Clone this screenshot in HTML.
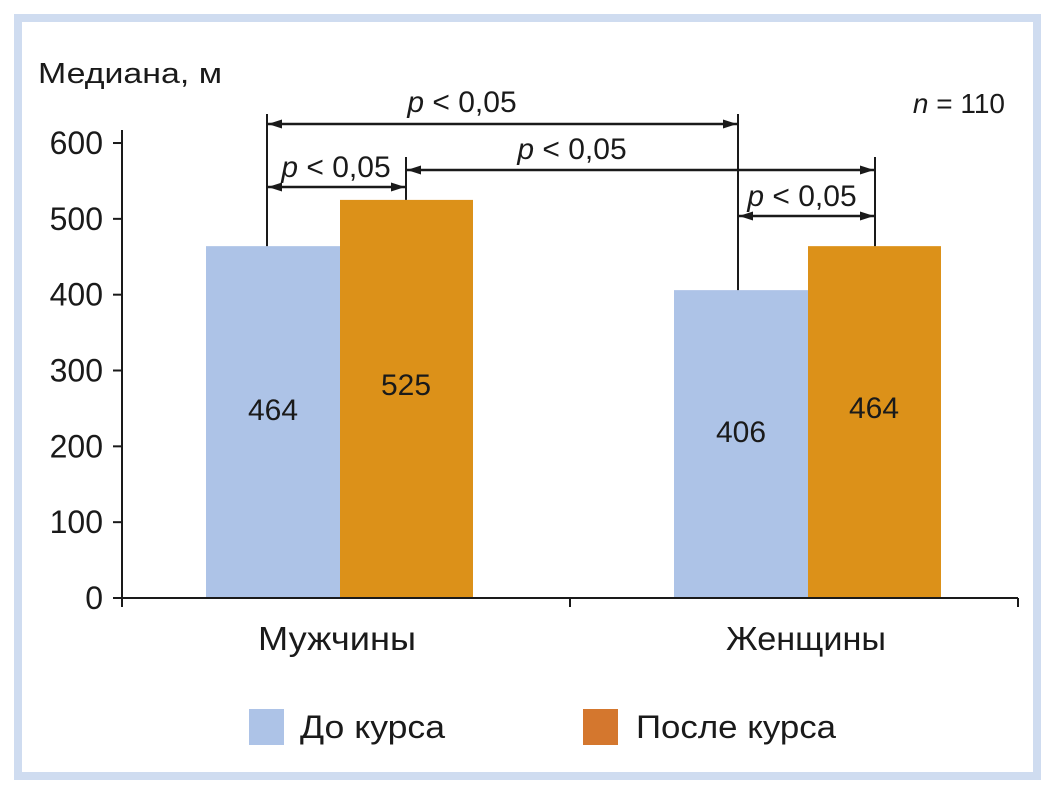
<!DOCTYPE html>
<html><head><meta charset="utf-8"><style>
body{margin:0;background:#fff;}
svg{display:block;font-family:"Liberation Sans",sans-serif;}
</style></head><body>
<svg id="chart" width="1055" height="796">
<defs><marker id="ah" markerWidth="14" markerHeight="9" refX="14" refY="4.5" orient="auto-start-reverse" markerUnits="userSpaceOnUse"><path d="M0,0 L14,4.5 L0,9 Z" fill="#1a1a1a"/></marker></defs>
<rect x="18" y="18" width="1019" height="758" fill="none" stroke="#cfdcf0" stroke-width="8"/>
<text x="38" y="83" font-size="29" textLength="184" lengthAdjust="spacingAndGlyphs" fill="#1a1a1a">Медиана, м</text>
<text x="1005" y="113" font-size="28" text-anchor="end" fill="#1a1a1a"><tspan font-style="italic">n</tspan> = 110</text>
<g id="g"></g>
<rect x="249" y="709" width="35" height="36" fill="#adc3e7"/>
<text x="300" y="738" font-size="32" textLength="145" lengthAdjust="spacingAndGlyphs" fill="#1a1a1a">До курса</text>
<rect x="583" y="709" width="35" height="36" fill="#d4772e"/>
<text x="636" y="738" font-size="32" textLength="200" lengthAdjust="spacingAndGlyphs" fill="#1a1a1a">После курса</text>
</svg>
<script>
const categories=["Мужчины","Женщины"];
const before=[464,406];
const after=[525,464];
const ticks=[0,100,200,300,400,500,600];
const NS="http://www.w3.org/2000/svg";
const g=document.getElementById('g');
const y=v=>598-v*0.7583;
const gx=i=>340+i*468;
function x0c(i){return 337+i*469;}
function el(t,a,txt){const e=document.createElementNS(NS,t);for(const k in a)e.setAttribute(k,a[k]);if(txt!==undefined)e.textContent=txt;g.appendChild(e);return e;}
categories.forEach((c,i)=>{
  const cx=gx(i);
  const b=el('rect',{x:cx-134,y:y(before[i]),width:134,height:598-y(before[i]),fill:'#adc3e7'});
  
  
  const a=el('rect',{x:cx,y:y(after[i]),width:133,height:598-y(after[i]),fill:'#dc9119'});
  
  
  const t1=el('text',{x:cx-67,y:y(before[i]/2)-2,'font-size':30,'text-anchor':'middle',fill:'#1a1a1a'},before[i]);
  
  
  const t2=el('text',{x:cx+66,y:y(after[i]/2)-4,'font-size':30,'text-anchor':'middle',fill:'#1a1a1a'},after[i]);
  
  
  const cl=el('text',{x:x0c(i),y:650,'font-size':33,'text-anchor':'middle',textLength:(i?160:158),lengthAdjust:'spacingAndGlyphs',fill:'#1a1a1a'},c);
  
  
});
ticks.forEach(t=>{
  el('line',{x1:113,x2:122,y1:y(t),y2:y(t),stroke:'#1a1a1a','stroke-width':2});
  const l=el('text',{x:103,y:y(t)+11,'font-size':32,'text-anchor':'end',fill:'#1a1a1a'},t);
  
  
});
el('line',{x1:122,x2:122,y1:130,y2:607,stroke:'#1a1a1a','stroke-width':2});
el('line',{x1:122,x2:1018,y1:598,y2:598,stroke:'#1a1a1a','stroke-width':2});
[570,1018].forEach(xx=>el('line',{x1:xx,x2:xx,y1:598,y2:607,stroke:'#1a1a1a','stroke-width':2}));
const xa=gx(0)-73,xb=gx(0)+66,xc=gx(1)-70,xd=gx(1)+67;
[[xa,114,y(before[0])],[xb,157,y(after[0])],[xc,114,y(before[1])],[xd,157,y(after[1])]].forEach(l=>el('line',{x1:l[0],x2:l[0],y1:l[1],y2:l[2],stroke:'#1a1a1a','stroke-width':2}));
function arrow(a1,a2,yy,tx,ty){
  const ln=el('line',{x1:a1+1,x2:a2-1,y1:yy,y2:yy,stroke:'#1a1a1a','stroke-width':2.5,'marker-start':'url(#ah)','marker-end':'url(#ah)'});
  
  
  const t=el('text',{x:tx,y:ty,'font-size':30,'text-anchor':'middle',fill:'#1a1a1a'});
  t.innerHTML='<tspan font-style="italic">p</tspan> &lt; 0,05';
  
  
}
arrow(xa,xc,124,462,112);
arrow(xb,xd,170,572,159);
arrow(xa,xb,187,336,177);
arrow(xc,xd,216,802,206);
</script>
</body></html>
